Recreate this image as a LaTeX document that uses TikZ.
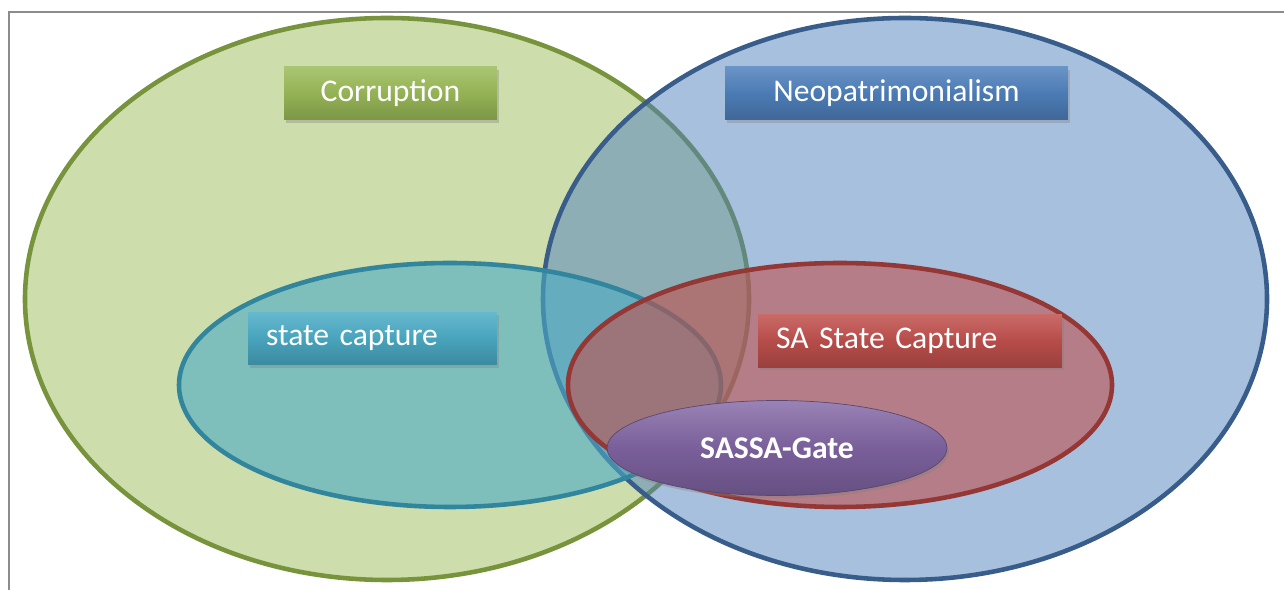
\documentclass[tikz,border=0pt]{standalone}
\usepackage{fontspec}
\setmainfont{Carlito}
\usetikzlibrary{shapes.geometric}
\usetikzlibrary{shadows}
\usetikzlibrary{positioning}

\definecolor{corrG}{HTML}{9BBB59}
\definecolor{corrD}{HTML}{77933C}
\definecolor{neoB}{HTML}{4F81BD}
\definecolor{neoD}{HTML}{385D8A}
\definecolor{capC}{HTML}{4BACC6}
\definecolor{capD}{HTML}{31859C}
\definecolor{saR}{HTML}{C0504D}
\definecolor{saD}{HTML}{953735}
\definecolor{gateP}{HTML}{8064A2}

\tikzset{
  set/.style={line width=2.6pt, fill opacity=0.5},
  tag/.style={minimum height=1.06cm, inner xsep=0.36cm, text=white,
    font=\fontsize{18}{20}\selectfont,
    drop shadow={opacity=0.35, shadow xshift=0.04cm, shadow yshift=-0.06cm}},
}

\begin{document}
\begin{tikzpicture}[x=0.02cm, y=-0.02cm]

% Define frame
\useasboundingbox (0,0) rectangle (1284,590);
\draw[gray!90, line width=1.1pt] (1284,12) -- (9,12) -- (9,590);

% Big sets
\draw[set, draw=corrD, fill=corrG] (387,299) ellipse [x radius=362, y radius=281];
\draw[set, draw=neoD, fill=neoB] (905,299) ellipse [x radius=362, y radius=281];

% Inner sets
\draw[set, fill opacity=0.6, draw=capD, fill=capC] (450,385) ellipse [x radius=271, y radius=122];
\draw[set, fill opacity=0.6, draw=saD, fill=saR] (840,385) ellipse [x radius=272, y radius=122];

% Labels
\node[tag, minimum width=4.26cm, top color=corrG!85!white, bottom color=corrG!80!black,
  middle color=corrG!95!black] (corr) at (390.5,93.5) {Corruption};
\node[tag, minimum width=6.86cm, top color=neoB!85!white, bottom color=neoB!80!black,
  middle color=neoB!95!black] (neo) at (896.5,93.5) {Neopatrimonialism};
\node[tag, text width=4.26cm, align=left, top color=capC!85!white, bottom color=capC!80!black,
  middle color=capC!95!black] (cap) at (372.5,338.5) {state capture};
\node[tag, text width=5.36cm, align=left, top color=saR!85!white, bottom color=saR!80!black,
  middle color=saR!95!black] (sacap) at (910,341) {SA State Capture};

% Case
\node[ellipse, minimum width=6.8cm, minimum height=1.9cm, draw=gateP!70!black, text=white,
  top color=gateP!80!white, bottom color=gateP!80!black, middle color=gateP!95!black,
  font=\fontsize{18}{20}\selectfont\bfseries,
  drop shadow={opacity=0.35, shadow xshift=0.04cm, shadow yshift=-0.06cm}] (gate) at (777,448) {SASSA-Gate};

\end{tikzpicture}
\end{document}
